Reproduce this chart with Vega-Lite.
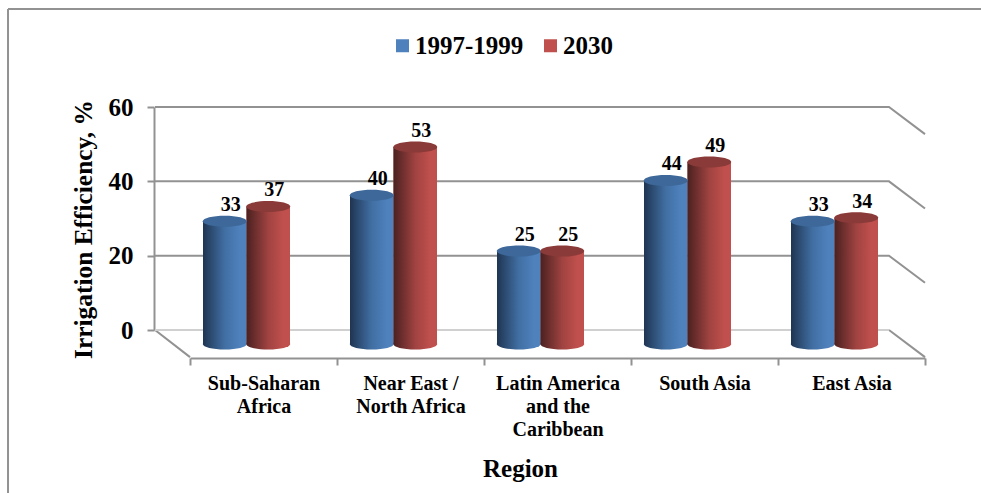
{
"$schema":"https://vega.github.io/schema/vega-lite/v6.json",
"width":981,"height":493,"padding":0,"autosize":{"type":"none"},
"background":"white",
"config":{"view":{"stroke":null},"font":"Liberation Serif"},
"datasets":{
"bars":[
{"region":"Sub-Saharan|Africa","series":"1997-1999","value":33},
{"region":"Sub-Saharan|Africa","series":"2030","value":37},
{"region":"Near East /|North Africa","series":"1997-1999","value":40},
{"region":"Near East /|North Africa","series":"2030","value":53},
{"region":"Latin America|and the|Caribbean","series":"1997-1999","value":25},
{"region":"Latin America|and the|Caribbean","series":"2030","value":25},
{"region":"South Asia","series":"1997-1999","value":44},
{"region":"South Asia","series":"2030","value":49},
{"region":"East Asia","series":"1997-1999","value":33},
{"region":"East Asia","series":"2030","value":34}],
"walls":[
{"line":"g60","along":-0.238,"level":60},{"line":"g60","along":4.755,"level":60},{"line":"g60","along":5,"level":52.7},
{"line":"g40","along":-0.238,"level":40},{"line":"g40","along":4.755,"level":40},{"line":"g40","along":5,"level":32.7},
{"line":"g20","along":-0.238,"level":20},{"line":"g20","along":4.755,"level":20},{"line":"g20","along":5,"level":12.7},
{"line":"floorL","along":-0.238,"level":0},{"line":"floorL","along":0,"level":-7.3},
{"line":"floorR","along":4.755,"level":0},{"line":"floorR","along":5,"level":-7.3},
{"line":"frameL","along":-1.238,"level":-43.9},{"line":"frameL","along":-1.238,"level":86.4},
{"line":"frameT","along":-1.238,"level":86.4},{"line":"frameT","along":5.381,"level":86.4}],
"floor":[{"line":"g0","along":-0.238,"level":0},{"line":"g0","along":4.755,"level":0}]
},
"layer":[
{"data":{"name":"walls"},"mark":{"type":"line","stroke":"#929292","strokeWidth":2},
 "encoding":{
  "x":{"field":"along","type":"quantitative","scale":{"domain":[0,5],"range":[190,925],"nice":false,"zero":false},"axis":null},
  "y":{"field":"level","type":"quantitative","scale":{"domain":[0,60],"range":[330,107],"nice":false,"zero":false},
   "axis":{"values":[0,20,40,60],"offset":-154,"tickSize":7,"tickWidth":2,"tickColor":"#929292","domainColor":"#929292","domainWidth":2,"grid":false,
    "labelFont":"Liberation Serif","labelFontWeight":"bold","labelFontSize":25,"labelColor":"black","labelPadding":14,
    "title":"Irrigation Efficiency, %","titleFont":"Liberation Serif","titleFontWeight":"bold","titleFontSize":25.4,"titleColor":"black","titleX":-71,"titleY":229,"titleAnchor":"middle","titleAlign":"center","titleBaseline":"middle","titleAngle":-90}},
  "detail":{"field":"line"}}},
{"data":{"name":"floor"},"mark":{"type":"line","stroke":"#d0d0d0","strokeWidth":2},
 "encoding":{
  "x":{"field":"along","type":"quantitative","scale":{"domain":[0,5],"range":[190,925],"nice":false,"zero":false},"axis":null},
  "y":{"field":"level","type":"quantitative","scale":{"domain":[0,60],"range":[330,107],"nice":false,"zero":false},"axis":null}}},
{"data":{"name":"bars"},"mark":{"type":"bar"},
 "encoding":{
  "x":{"field":"region","type":"nominal","sort":null,"scale":{"range":[190,925],"paddingInner":0,"paddingOuter":0},
   "axis":{"orient":"bottom","offset":-135,"tickBand":"extent","tickSize":7,"tickWidth":2,"tickColor":"#929292","domainColor":"#929292","domainWidth":2,"grid":false,"labelAngle":0,
    "labelExpr":"split(datum.label,'|')","labelFont":"Liberation Serif","labelFontWeight":"bold","labelFontSize":20,"labelColor":"black","labelLineHeight":23,"labelPadding":8,
    "labelBaseline":"top","labelLimit":0,
    "title":"Region","titleFont":"Liberation Serif","titleFontWeight":"bold","titleFontSize":25,"titleColor":"black","titleX":520,"titleY":110,"titleAnchor":"middle","titleAlign":"center","titleBaseline":"middle"}},
  "xOffset":{"field":"series","type":"nominal","scale":{"range":[13,100],"paddingInner":0,"paddingOuter":0}},
  "y":{"field":"value","type":"quantitative","scale":{"domain":[0,60],"range":[344,121],"nice":false,"zero":false},"axis":null},
  "y2":{"datum":0},
  "color":{"field":"series","type":"nominal","scale":{"domain":["1997-1999","2030"],"range":["#4f81bd","#c0504d"]},
   "legend":{"orient":"none","legendX":390,"legendY":33,"direction":"horizontal","title":null,"symbolType":"square","symbolSize":169,"symbolStrokeWidth":0,
    "labelFont":"Liberation Serif","labelFontWeight":"bold","labelFontSize":25,"labelColor":"black","labelOffset":0,"columnPadding":14,"symbolOffset":0}}}},
{"data":{"name":"bars"},"mark":{"type":"point","filled":true,"opacity":1,"strokeWidth":0,"size":1936,"shape":"M-1,0A1,0.25,0,1,0,1,0A1,0.25,0,1,0,-1,0Z"},
 "encoding":{
  "x":{"field":"region","type":"nominal","sort":null,"scale":{"range":[190,925],"paddingInner":0,"paddingOuter":0},"axis":null},
  "xOffset":{"field":"series","type":"nominal","scale":{"range":[13,100],"paddingInner":0,"paddingOuter":0}},
  "y":{"datum":0,"type":"quantitative","scale":{"domain":[0,60],"range":[344,121],"nice":false,"zero":false},"axis":null},
  "fill":{"condition":{"test":"datum.series==='2030'","value":{"gradient":"linear","x1":0,"y1":0,"x2":1,"y2":0,"stops":[{"offset":0,"color":"#4a2120"},{"offset":0.5,"color":"#a04341"},{"offset":0.85,"color":"#c0504d"},{"offset":1,"color":"#c0504d"}]}},
   "value":{"gradient":"linear","x1":0,"y1":0,"x2":1,"y2":0,"stops":[{"offset":0,"color":"#1f3552"},{"offset":0.5,"color":"#416fa3"},{"offset":0.85,"color":"#4f81bd"},{"offset":1,"color":"#4f81bd"}]}}}},
{"data":{"name":"bars"},"mark":{"type":"bar"},
 "encoding":{
  "x":{"field":"region","type":"nominal","sort":null,"scale":{"range":[190,925],"paddingInner":0,"paddingOuter":0},"axis":null},
  "xOffset":{"field":"series","type":"nominal","scale":{"range":[13,100],"paddingInner":0,"paddingOuter":0}},
  "y":{"field":"value","type":"quantitative","scale":{"domain":[0,60],"range":[344,121],"nice":false,"zero":false},"axis":null},
  "y2":{"datum":0},
  "fill":{"condition":{"test":"datum.series==='2030'","value":{"gradient":"linear","x1":0,"y1":0,"x2":1,"y2":0,"stops":[{"offset":0,"color":"#4a2120"},{"offset":0.5,"color":"#a04341"},{"offset":0.85,"color":"#c0504d"},{"offset":1,"color":"#c0504d"}]}},
   "value":{"gradient":"linear","x1":0,"y1":0,"x2":1,"y2":0,"stops":[{"offset":0,"color":"#1f3552"},{"offset":0.5,"color":"#416fa3"},{"offset":0.85,"color":"#4f81bd"},{"offset":1,"color":"#4f81bd"}]}}}},
{"data":{"name":"bars"},"mark":{"type":"point","filled":true,"opacity":1,"strokeWidth":0,"size":1936,"shape":"M-1,0A1,0.25,0,1,0,1,0A1,0.25,0,1,0,-1,0Z"},
 "encoding":{
  "x":{"field":"region","type":"nominal","sort":null,"scale":{"range":[190,925],"paddingInner":0,"paddingOuter":0},"axis":null},
  "xOffset":{"field":"series","type":"nominal","scale":{"range":[13,100],"paddingInner":0,"paddingOuter":0}},
  "y":{"field":"value","type":"quantitative","scale":{"domain":[0,60],"range":[344,121],"nice":false,"zero":false},"axis":null},
  "fill":{"condition":{"test":"datum.series==='2030'","value":"#8a3a38"},"value":"#3d6899"}}},
{"data":{"name":"bars"},"mark":{"type":"text","font":"Liberation Serif","fontWeight":"bold","fontSize":20,"color":"black","dx":6,"dy":-16,"baseline":"middle"},
 "encoding":{
  "x":{"field":"region","type":"nominal","sort":null,"scale":{"range":[190,925],"paddingInner":0,"paddingOuter":0},"axis":null},
  "xOffset":{"field":"series","type":"nominal","scale":{"range":[13,100],"paddingInner":0,"paddingOuter":0}},
  "y":{"field":"value","type":"quantitative","scale":{"domain":[0,60],"range":[344,121],"nice":false,"zero":false},"axis":null},
  "text":{"field":"value","type":"quantitative"}}}
],
"resolve":{"scale":{"x":"independent","y":"independent"}}
}
